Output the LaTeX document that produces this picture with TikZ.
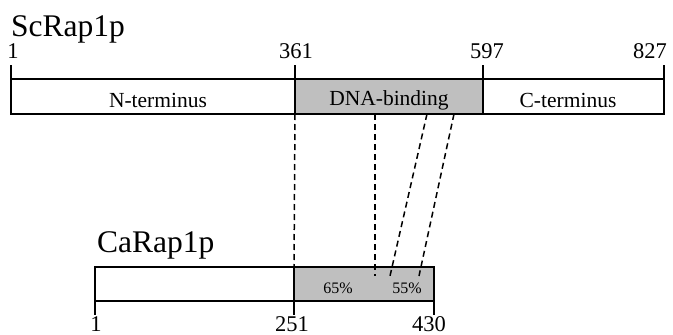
\documentclass[tikz,border=0pt]{standalone}
\usepackage{fontspec}
\setmainfont{Liberation Serif}
\begin{document}
\begin{tikzpicture}[x=1pt,y=-1pt,
  bar/.style={draw=black,line width=1.8pt},
  dom/.style={bar,fill=black!25},
  tick/.style={draw=black,line width=1.8pt},
  link/.style={draw=black,line width=1.5pt,dash pattern=on 6pt off 4pt},
  num/.style={font=\fontsize{22.5}{22.5}\selectfont,anchor=base,inner sep=0pt},
  title/.style={font=\fontsize{31.5}{31.5}\selectfont,anchor=base west,inner sep=0pt},
  inlab/.style={font=\fontsize{21.5}{21.5}\selectfont,inner sep=0pt},
  pct/.style={font=\fontsize{16}{16}\selectfont,anchor=base,inner sep=0pt}]
\useasboundingbox (0,0) rectangle (673,335);
% top protein
\node[title] (sc) at (11,36) {ScRap1p};
\path[bar,fill=white] (11,79) rectangle (295,114);
\path[dom] (295,79) rectangle (483,114);
\path[bar,fill=white] (483,79) rectangle (664,114);
\draw[tick] (11,65) -- (11,79);
\draw[tick] (295,65) -- (295,79);
\draw[tick] (483,65) -- (483,79);
\draw[tick] (664,65) -- (664,79);
\node[num] (t1) at (13,58) {1};
\node[num] (t361) at (296,58) {361};
\node[num] (t597) at (487,58) {597};
\node[num,anchor=base east] (t827) at (667,58) {827};
\node[inlab] (nt) at (158,100) {N-terminus};
\node[inlab] (dna) at (389,100) {DNA-binding};
\node[inlab] (ct) at (568,100) {C-terminus};
% bottom protein
\node[title] (ca) at (97,252) {CaRap1p};
\path[bar,fill=white] (95,267) rectangle (294,301);
\path[dom] (294,267) rectangle (434,301);
\draw[tick] (95,301) -- (95,315);
\draw[tick] (294,301) -- (294,315);
\draw[tick] (434,301) -- (434,315);
\node[num] (b1) at (96,331) {1};
\node[num] (b251) at (292,331) {251};
\node[num] (b430) at (429,331) {430};
\node[pct] (p65) at (338,293) {65\%};
\node[pct] (p55) at (407,293) {55\%};
% links
\coordinate (a1) at (295,114); \coordinate (a2) at (294,267);
\coordinate (c1) at (375,114); \coordinate (c2) at (375,276);
\coordinate (d1) at (427,114); \coordinate (d2) at (390,276);
\coordinate (e1) at (454,114); \coordinate (e2) at (419,276);
\draw[link] (a1) -- (a2);
\draw[link] (c1) -- (c2);
\draw[link] (d1) -- (d2);
\draw[link] (e1) -- (e2);
\end{tikzpicture}
\end{document}
